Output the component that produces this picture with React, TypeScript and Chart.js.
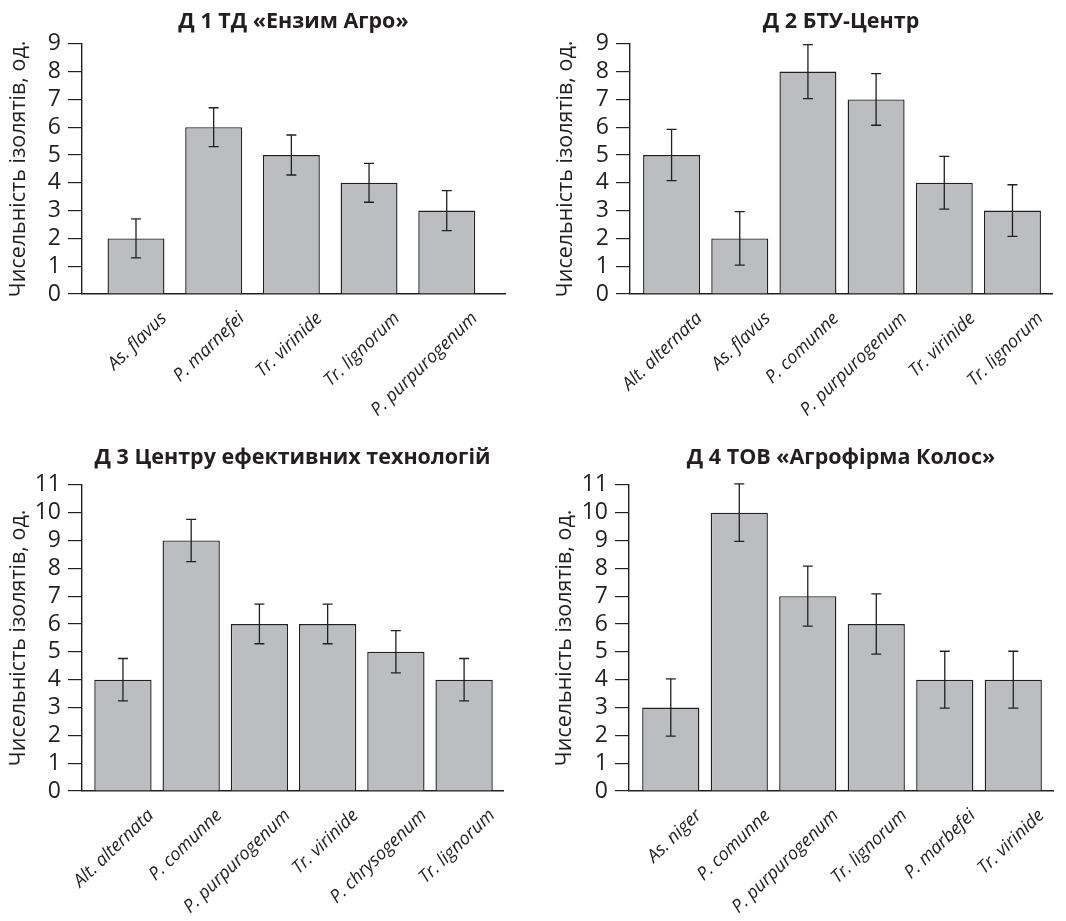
import React, { useEffect, useRef } from 'react';
import { Chart, registerables } from 'chart.js';
Chart.register(...registerables);

const FONT = "'Open Sans', 'Noto Sans', 'DejaVu Sans', sans-serif";
const INK = '#231f20';
const BAR_FILL = '#bcbdc0';
const Y_TITLE = 'Чисельність ізолятів, од.';

// Panel 1
const title1 = 'Д 1 ТД «Ензим Агро»';
const labels1 = ['As. flavus', 'P. marnefei', 'Tr. virinide', 'Tr. lignorum', 'P. purpurogenum'];
const values1 = [2, 6, 5, 4, 3];
const errors1 = [0.7, 0.7, 0.72, 0.7, 0.72];
const yMax1 = 9;

// Panel 2
const title2 = 'Д 2 БТУ-Центр';
const labels2 = ['Alt. alternata', 'As. flavus', 'P. comunne', 'P. purpurogenum', 'Tr. virinide', 'Tr. lignorum'];
const values2 = [5, 2, 8, 7, 4, 3];
const errors2 = [0.92, 0.96, 0.97, 0.93, 0.95, 0.93];
const yMax2 = 9;

// Panel 3
const title3 = 'Д 3 Центру ефективних технологій';
const labels3 = ['Alt. alternata', 'P. comunne', 'P. purpurogenum', 'Tr. virinide', 'P. chrysogenum', 'Tr. lignorum'];
const values3 = [4, 9, 6, 6, 5, 4];
const errors3 = [0.76, 0.76, 0.71, 0.71, 0.76, 0.76];
const yMax3 = 11;

// Panel 4
const title4 = 'Д 4 ТОВ «Агрофірма Колос»';
const labels4 = ['As. niger', 'P. comunne', 'P. purpurogenum', 'Tr. lignorum', 'P. marbefei', 'Tr. virinide'];
const values4 = [3, 10, 7, 6, 4, 4];
const errors4 = [1.03, 1.03, 1.08, 1.08, 1.02, 1.02];
const yMax4 = 11;

const errorBarPlugin = {
  id: 'errorBars',
  afterDatasetsDraw(chart: any, _args: any, opts: any) {
    const errs: number[] = opts.errors || [];
    const ds = chart.data.datasets[0];
    const xs = chart.scales.x;
    const ys = chart.scales.y;
    const ctx = chart.ctx;
    ctx.save();
    ctx.strokeStyle = INK;
    ctx.lineWidth = 1.3;
    ds.data.forEach((pt: any, i: number) => {
      const e = errs[i];
      if (e == null) return;
      const x = xs.getPixelForValue(pt.x);
      const yt = ys.getPixelForValue(pt.y + e);
      const yb = ys.getPixelForValue(pt.y - e);
      ctx.beginPath();
      ctx.moveTo(x, yt);
      ctx.lineTo(x, yb);
      ctx.moveTo(x - 5, yt);
      ctx.lineTo(x + 5, yt);
      ctx.moveTo(x - 5, yb);
      ctx.lineTo(x + 5, yb);
      ctx.stroke();
    });
    ctx.restore();
  },
};

type Geo = {
  left: number; top: number; width: number; height: number;
  padL: number; padR: number; yWidth: number;
  titleTop: number; titleBottom: number; xHeight: number;
  xMin: number; xMax: number; barPct: number; labelOffset: number;
};

function Panel(props: {
  title: string; labels: string[]; values: number[]; errors: number[]; yMax: number; geo: Geo;
}) {
  const ref = useRef<HTMLCanvasElement | null>(null);
  const { title, labels, values, errors, yMax, geo } = props;
  useEffect(() => {
    if (!ref.current) return;
    const chart = new Chart(ref.current, {
      type: 'bar',
      data: {
        datasets: [
          {
            data: values.map((v, i) => ({ x: i, y: v })),
            backgroundColor: BAR_FILL,
            borderColor: INK,
            borderWidth: 1.4,
            categoryPercentage: 1,
            barPercentage: geo.barPct,
          } as any,
        ],
      },
      plugins: [errorBarPlugin],
      options: {
        animation: false,
        responsive: false,
        layout: { padding: { left: geo.padL, right: geo.padR, top: 0, bottom: 0 } },
        plugins: {
          legend: { display: false },
          tooltip: { enabled: false },
          title: {
            display: true,
            text: title,
            fullSize: false,
            color: INK,
            font: { family: FONT, size: 21.5, weight: 'bold', lineHeight: 1.2 },
            padding: { top: geo.titleTop, bottom: geo.titleBottom },
          },
          errorBars: { errors },
        } as any,
        scales: {
          x: {
            type: 'linear',
            offset: false,
            min: geo.xMin,
            max: geo.xMax,
            grid: { display: false, offset: false },
            border: { display: true, color: INK, width: 1.4 },
            afterFit: (s: any) => { s.height = geo.xHeight; },
            ticks: {
              stepSize: 1,
              includeBounds: false,
              autoSkip: false,
              minRotation: 44,
              maxRotation: 44,
              labelOffset: geo.labelOffset,
              padding: 6,
              color: INK,
              font: { family: FONT, size: 18, style: 'italic' },
              callback: (v: any) => (Number.isInteger(v) && labels[v] !== undefined ? labels[v] : ''),
            },
          },
          y: {
            min: 0,
            max: yMax,
            afterFit: (s: any) => { s.width = geo.yWidth; },
            grid: {
              display: true,
              drawOnChartArea: false,
              drawTicks: true,
              tickLength: 14,
              color: INK,
              lineWidth: 1.2,
            },
            border: { display: true, color: INK, width: 1.4 },
            ticks: {
              stepSize: 1,
              autoSkip: false,
              padding: 7,
              color: INK,
              font: { family: FONT, size: 23 },
            },
            title: {
              display: true,
              text: Y_TITLE,
              color: INK,
              font: { family: FONT, size: 21.5, lineHeight: 1.2 },
              padding: { top: 6, bottom: 0 },
            },
          },
        },
      } as any,
    });
    return () => chart.destroy();
  }, []);
  return (
    <canvas
      ref={ref}
      width={geo.width}
      height={geo.height}
      style={{ position: 'absolute', left: geo.left, top: geo.top, width: geo.width, height: geo.height }}
    />
  );
}

const geo1: Geo = { left: 0, top: 0, width: 533, height: 440, padL: 0, padR: 28, yWidth: 82, titleTop: 9, titleBottom: 9, xHeight: 146, xMin: -0.695, xMax: 4.75, barPct: 0.733, labelOffset: 28 };
const geo2: Geo = { left: 533, top: 0, width: 533, height: 440, padL: 14, padR: 14, yWidth: 83, titleTop: 9, titleBottom: 9, xHeight: 146, xMin: -0.61, xMax: 5.58, barPct: 0.836, labelOffset: 28 };
const geo3: Geo = { left: 0, top: 440, width: 533, height: 481, padL: 0, padR: 30, yWidth: 82, titleTop: 5, titleBottom: 14, xHeight: 130, xMin: -0.6, xMax: 5.57, barPct: 0.84, labelOffset: 28 };
const geo4: Geo = { left: 533, top: 440, width: 533, height: 481, padL: 13, padR: 13, yWidth: 83, titleTop: 5, titleBottom: 14, xHeight: 130, xMin: -0.61, xMax: 5.58, barPct: 0.835, labelOffset: 28 };

export default function App() {
  return (
    <div style={{ position: 'fixed', left: 0, top: 0, width: 1066, height: 921, background: '#fff', overflow: 'hidden' }}>
      <Panel title={title1} labels={labels1} values={values1} errors={errors1} yMax={yMax1} geo={geo1} />
      <Panel title={title2} labels={labels2} values={values2} errors={errors2} yMax={yMax2} geo={geo2} />
      <Panel title={title3} labels={labels3} values={values3} errors={errors3} yMax={yMax3} geo={geo3} />
      <Panel title={title4} labels={labels4} values={values4} errors={errors4} yMax={yMax4} geo={geo4} />
    </div>
  );
}
